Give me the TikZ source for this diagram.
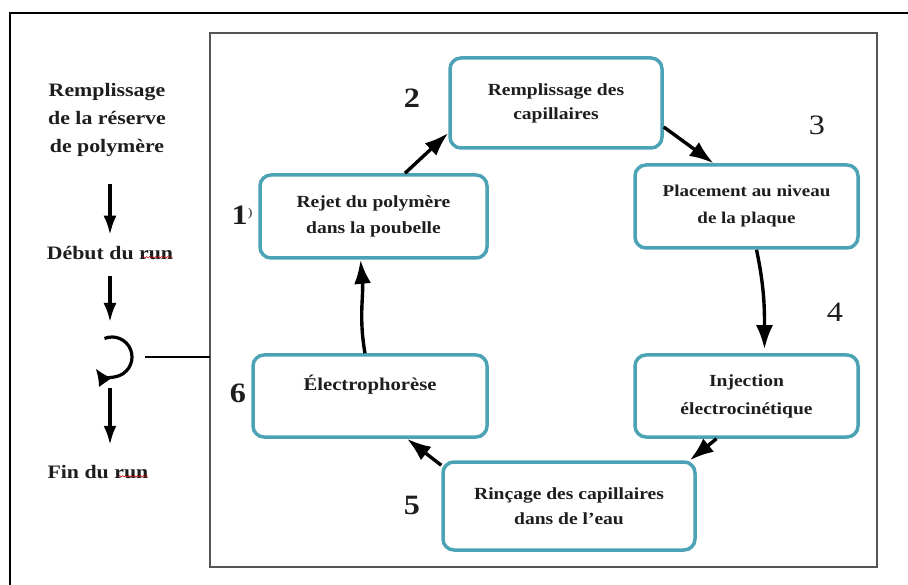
\documentclass[tikz,border=0pt]{standalone}
\usepackage{fontspec}
\setmainfont{Liberation Serif}[FakeStretch=1.15]
\usetikzlibrary{arrows.meta,decorations.pathmorphing}
\definecolor{boxteal}{RGB}{76,163,182}
\definecolor{framegray}{RGB}{85,85,85}
\definecolor{txt}{RGB}{30,30,30}
\begin{document}
\begin{tikzpicture}[x=1pt,y=-1pt,
  stepbox/.style={draw=boxteal, line width=3.5pt, rounded corners=11pt, fill=white, align=center,
    font=\fontsize{17}{26}\selectfont\bfseries, text=txt},
  flow/.style={line width=3.4pt, -{Latex[length=24pt,width=17pt]}},
  sideflow/.style={line width=3.2pt, -{Latex[length=19pt,width=13pt]}},
  num/.style={font=\fontsize{28}{28}\selectfont\bfseries, text=txt},
  numlight/.style={font=\fontsize{28}{28}\selectfont, text=txt},
  side/.style={align=center, font=\fontsize{19}{28}\selectfont\bfseries, text=txt},
  squig/.style={red!80!black, line width=0.5pt, decorate, decoration={snake, amplitude=0.7pt, segment length=3pt}}]
\useasboundingbox (0,0) rectangle (908,585);
\fill[white] (0,0) rectangle (908,585);

% outer frame
\draw[line width=1.6pt] (10,585) -- (10,13) -- (908,13);
% inner frame
\coordinate (framel) at (210,33);
\draw[framegray, line width=2.4pt] (framel) rectangle (877,567);

% side text
\node[side] (rem) at (107,120) {Remplissage\\de la réserve\\de polymère};
\node[side] (deb) at (110,253) {Début du run};
\node[side, anchor=west] (fin) at (44,472) {Fin du run};
\coordinate (cyc) at (112,357);

\draw[squig] ([xshift=-34pt,yshift=6pt]deb.south east) -- ([xshift=-4pt,yshift=6pt]deb.south east);
\draw[squig] ([xshift=-33pt,yshift=6pt]fin.south east) -- ([xshift=-4pt,yshift=6pt]fin.south east);

\draw[sideflow, shorten <=24pt, shorten >=8pt] (rem.south -| deb) -- (deb.north);
\draw[sideflow, shorten <=13pt, shorten >=35pt] (deb.south) -- (deb.south |- cyc);
\draw[sideflow, shorten <=31pt, shorten >=17pt] (cyc -| deb) -- (fin.north -| deb);

% cycle symbol
\draw[line width=3.2pt, -{Latex[length=17pt,width=16pt]}] ([shift={(112:20pt)}]cyc) arc[start angle=112, end angle=-145, radius=20pt];
\draw[line width=1.6pt] ([xshift=33pt]cyc) -- (cyc -| framel);

% step boxes
\node[stepbox, minimum width=227pt, minimum height=83pt] (b1) at (373.5,216.5) {Rejet du polymère\\dans la poubelle};
\node[stepbox, minimum width=212pt, minimum height=90pt, font=\fontsize{17}{24}\selectfont\bfseries] (b2) at (556,103) {Remplissage des\\capillaires};
\node[stepbox, minimum width=223pt, minimum height=83pt, font=\fontsize{16.5}{27}\selectfont\bfseries] (b3) at (746.5,206.5) {Placement au niveau\\de la plaque};
\node[stepbox, minimum width=223pt, minimum height=82pt, font=\fontsize{17}{28}\selectfont\bfseries] (b4) at (746.5,396) {Injection\\électrocinétique};
\node[stepbox, minimum width=252pt, minimum height=88pt, font=\fontsize{17}{25}\selectfont\bfseries] (b5) at (569,506) {Rinçage des capillaires\\dans de l’eau};
\node[stepbox, minimum width=234pt, minimum height=82pt, font=\fontsize{18}{26}\selectfont\bfseries] (b6) at (370,396) {Électrophorèse\\\mbox{}};

% numbers
\node[num] (n1) at (242,215) {1\raisebox{8pt}{\fontsize{12}{12}\selectfont\mdseries )}};
\node[num] (n2) at (412,98) {2};
\node[numlight] (n3) at (817,125) {3};
\node[numlight] (n4) at (835,312) {4};
\node[num] (n5) at (412,505) {5};
\node[num] (n6) at (238,393) {6};

% cycle connectors
\draw[flow] ([xshift=31.5pt]b1.north) -- ([yshift=-30pt]b2.west);
\draw[flow] ([yshift=-24pt]b2.east) -- ([xshift=-33pt]b3.north);
\draw[flow] ([xshift=10pt]b3.south) to[out=-78, in=90] ([xshift=18pt,yshift=4pt]b4.north);
\draw[flow] ([xshift=-30pt]b4.south) -- ([xshift=-7pt]b5.north east);
\draw[flow] ([yshift=-5pt]b5.north west) -- ([xshift=37pt]b6.south);
\draw[flow] ([xshift=-5pt]b6.north) to[out=100, in=-85] ([xshift=-13pt]b1.south);
\end{tikzpicture}
\end{document}
